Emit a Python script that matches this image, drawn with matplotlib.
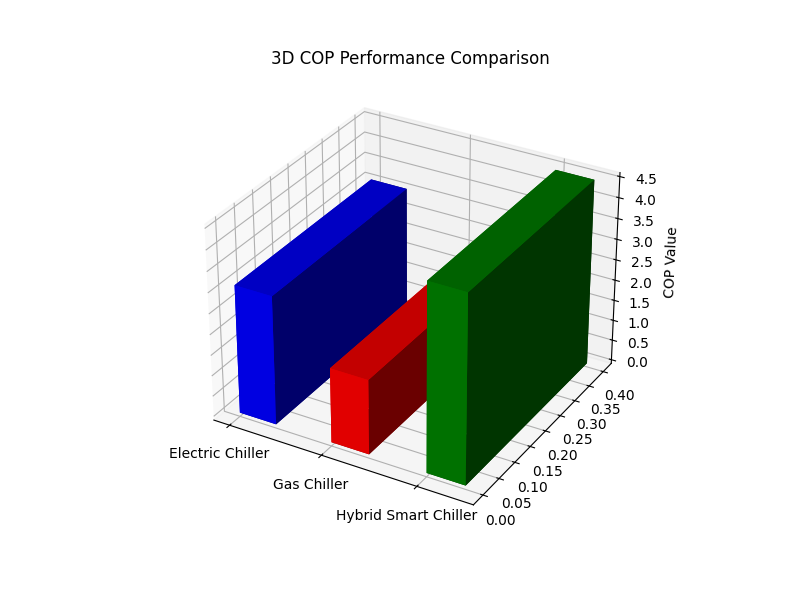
import numpy as np
import matplotlib
matplotlib.use('Agg')
import matplotlib.pyplot as plt

# chiller types and their COP
chillers = ['Electric Chiller', 'Gas Chiller', 'Hybrid Smart Chiller']
cop_values = [3.1, 1.8, 4.5]
bar_colors = ['blue', 'red', 'green']

fig = plt.figure(figsize=(8, 6), dpi=100)
ax = fig.add_subplot(111, projection='3d')

x = np.arange(len(chillers))
y = np.zeros(len(chillers))
z = np.zeros(len(chillers))
dx = np.ones(len(chillers)) * 0.4
dy = np.ones(len(chillers)) * 0.4

ax.bar3d(x, y, z, dx, dy, cop_values, color=bar_colors)

ax.set_xticks(x)
ax.set_xticklabels(chillers)
ax.set_zlabel('COP Value')
ax.set_title('3D COP Performance Comparison')

plt.savefig('out.png')
